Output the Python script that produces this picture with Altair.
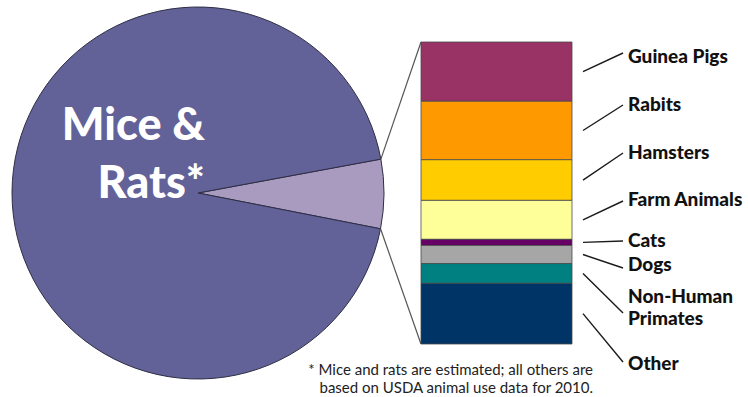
import math
import altair as alt
import pandas as pd

# ---------------- data ----------------
pie_names = ["All Others", "Mice & Rats*"]
pie_share = [6, 94]
pie_colors = ["#A99ABF", "#626198"]

categories = ["Guinea Pigs", "Rabits", "Hamsters", "Farm Animals", "Cats", "Dogs",
              "Non-Human Primates", "Other"]
label_text = ["Guinea Pigs", "Rabits", "Hamsters", "Farm Animals", "Cats", "Dogs",
              "Non-Human\nPrimates", "Other"]
values = [213, 210, 146, 140, 22, 65, 71, 218]   # thousands (USDA 2010)
bar_colors = ["#993366", "#FF9900", "#FFCC00", "#FFFF99", "#660066", "#A6A6A6",
              "#008080", "#003366"]

footnote = ["* Mice and rats are estimated; all others are",
            "based on USDA animal use data for 2010."]

# ---------------- layout ----------------
W, H = 748, 397
CX, CY, R = 198, 193, 186
PIE_START_DEG = 79.5
BAR_X0, BAR_X1 = 421, 572
BAR_TOP, BAR_BOTTOM = 42, 344
LEAD_X0, LEAD_X1, TEXT_X = 583, 623, 628
LEAD_END_PX = [53, 105, 153, 201, 241, 268, 313, 362]
TEXT_Y_PX = [57, 105, 153, 200, 241, 265, 297, 364]

total = sum(values)


def px_to_data(px):
    return (px - BAR_TOP) / (BAR_BOTTOM - BAR_TOP) * total


yscale = alt.Scale(domain=[0, total], range=[BAR_TOP, BAR_BOTTOM], nice=False, zero=False)

# ---------------- pie ----------------
a0 = math.radians(PIE_START_DEG)
pie_df = pd.DataFrame({"name": pie_names, "share": pie_share, "ord": [0, 1]})
pie = alt.Chart(pie_df).mark_arc(radius=R, stroke="#2e2e45", strokeWidth=1).encode(
    theta=alt.Theta("share:Q", stack=True, scale=alt.Scale(range=[a0, a0 + 2 * math.pi])),
    order=alt.Order("ord:Q"),
    color=alt.Color("name:N", scale=alt.Scale(domain=pie_names, range=pie_colors), legend=None),
    x=alt.value(CX),
    y=alt.value(CY),
)

# connectors from the small slice to the bar
a1 = a0 + pie_share[0] / sum(pie_share) * 2 * math.pi
con_df = pd.DataFrame({
    "x1": [CX + R * math.sin(a0), CX + R * math.sin(a1)],
    "y1": [px_to_data(CY - R * math.cos(a0)), px_to_data(CY - R * math.cos(a1))],
    "x2": [BAR_X0, BAR_X0],
    "y2": [0, total],
})
connectors = alt.Chart(con_df).mark_rule(color="#555555", strokeWidth=1.2).encode(
    x=alt.X("x1:Q", scale=None, axis=None),
    x2="x2:Q",
    y=alt.Y("y1:Q", scale=yscale, axis=None),
    y2="y2:Q",
)

# ---------------- stacked bar ----------------
starts = []
acc = 0
for v in values:
    starts.append(acc)
    acc += v
bar_df = pd.DataFrame({
    "cat": categories,
    "start": starts,
    "end": [s + v for s, v in zip(starts, values)],
})
bar = alt.Chart(bar_df).mark_rect(stroke="#4a4a4a", strokeWidth=0.8).encode(
    x=alt.value(BAR_X0),
    x2=alt.value(BAR_X1),
    y=alt.Y("start:Q", scale=yscale, axis=None),
    y2="end:Q",
    color=alt.Color("cat:N", scale=alt.Scale(domain=categories, range=bar_colors), legend=None),
)

# ---------------- labels ----------------
lab_df = pd.DataFrame({
    "label": label_text,
    "mid": [s + v / 2 for s, v in zip(starts, values)],
    "lead": [px_to_data(p) for p in LEAD_END_PX],
    "ty": [px_to_data(p) for p in TEXT_Y_PX],
})
leaders = alt.Chart(lab_df).mark_rule(color="#1a1a1a", strokeWidth=1.4).encode(
    x=alt.value(LEAD_X0),
    x2=alt.value(LEAD_X1),
    y=alt.Y("mid:Q", scale=yscale, axis=None),
    y2="lead:Q",
)
labels = alt.Chart(lab_df).mark_text(
    align="left", baseline="middle", font="Lato", fontWeight=900, fontSize=19,
    lineBreak="\n", lineHeight=22, color="#111111",
).encode(
    x=alt.value(TEXT_X),
    y=alt.Y("ty:Q", scale=yscale, axis=None),
    text="label:N",
)

# ---------------- texts ----------------
title = alt.Chart(pd.DataFrame({"t": ["Mice &\nRats*"]})).mark_text(
    align="right", baseline="alphabetic", font="Lato", fontWeight=900, fontSize=45,
    lineBreak="\n", lineHeight=58, color="white",
).encode(x=alt.value(205), y=alt.value(140), text="t:N")

note = alt.Chart(pd.DataFrame({"t": ["\n".join(footnote)]})).mark_text(
    align="right", baseline="alphabetic", font="Lato", fontSize=15,
    lineBreak="\n", lineHeight=18, color="#222222",
).encode(x=alt.value(593), y=alt.value(375), text="t:N")

chart = alt.layer(pie, connectors, bar, leaders, labels, title, note).resolve_scale(
    color="independent"
).properties(
    width=W, height=H, autosize=alt.AutoSizeParams(type="none"), padding=0,
    background="white",
).configure_view(stroke=None)

chart.save("out.html", embed_options={"renderer": "svg", "actions": False})
